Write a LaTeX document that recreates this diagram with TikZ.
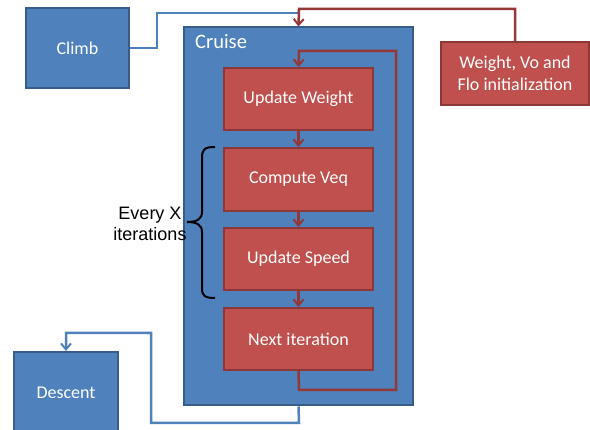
\documentclass[tikz,border=0pt]{standalone}
\usepackage{fontspec}
\setmainfont{Carlito}
\newfontfamily\arialfont{Liberation Sans}
\usetikzlibrary{arrows.meta}
\definecolor{boxblue}{HTML}{4F81BD}
\definecolor{edgeblue}{HTML}{385D8A}
\definecolor{boxred}{HTML}{C0504D}
\definecolor{edgered}{HTML}{8C3836}
\definecolor{linered}{HTML}{953735}
\tikzset{
  bluebox/.style={draw=edgeblue, fill=boxblue, line width=2pt, text=white, font=\fontsize{18}{22}\selectfont, inner sep=0pt},
  redbox/.style={draw=edgered, fill=boxred, line width=2pt, text=white, font=\fontsize{18}{22}\selectfont, inner sep=0pt, minimum width=149pt, align=center},
  redline/.style={draw=linered, line width=2.5pt},
  blueline/.style={draw=boxblue, line width=2.5pt},
  tip/.style={-{Straight Barb[length=6pt,width=10pt,line width=2pt]}},
}
\begin{document}
\begin{tikzpicture}[x=1pt,y=-1pt]
\useasboundingbox (0,0) rectangle (590,430);
\clip (0,0) rectangle (590,430);
% boxes
\node[bluebox, minimum width=103pt, minimum height=80pt] (climb) at (77.5,48) {Climb};
\node[bluebox, minimum width=229pt, minimum height=378pt] (cruise) at (298.5,216.5) {};
\node[anchor=base west, inner sep=0pt, text=white, font=\fontsize{20.5}{24}\selectfont] (cruiselbl) at (195,49) {Cruise};
\node[redbox, minimum height=62pt] (uw) at (298.5,99) {Update Weight};
\node[redbox, minimum height=63pt] (cv) at (298.5,179.5) {Compute Veq};
\node[redbox, minimum height=62pt] (us) at (298.5,259) {Update Speed};
\node[redbox, minimum height=62pt] (ni) at (298.5,339) {Next iteration};
\node[redbox, minimum width=148pt, minimum height=63pt] (init) at (515,73.5) {Weight, Vo and\\Flo initialization};
\node[bluebox, minimum width=104pt, minimum height=82pt] (descent) at (66,393) {Descent};
% coordinates
\coordinate (b1) at (157,48);
\coordinate (b2) at (157,13);
\coordinate (b3) at (299,13);
\coordinate (r1) at (299,9);
\coordinate (l1) at (299,390);
\coordinate (l2) at (396,390);
\coordinate (l3) at (396,51);
\coordinate (l4) at (299,51);
\coordinate (d1) at (299,423);
\coordinate (d2) at (151,423);
\coordinate (d3) at (151,333);
\coordinate (d4) at (66,333);
% blue connectors
\draw[blueline] (climb.east) -- (b1) -- (b2) -- (b3);
\draw[blueline, tip] (cruise.south) -- (d1) -- (d2) -- (d3) -- (d4) -- (descent.north);
% red connectors
\draw[redline, tip] (init.north) |- (r1) -- (cruise.north);
\draw[redline, tip] (ni.south) -- (l1) -- (l2) -- (l3) -- (l4) -- (uw.north);
\draw[redline, tip] (uw.south) -- (cv.north);
\draw[redline, tip] (cv.south) -- (us.north);
\draw[redline, tip] (us.south) -- (ni.north);
% brace
\draw[line width=2pt, black] (215,147) .. controls (205,147) and (202,149) .. (202,158) -- (202,212) .. controls (202,219) and (197,222) .. (187,222) .. controls (197,222) and (202,225) .. (202,232) -- (202,288) .. controls (202,296) and (205,298) .. (215,298);
\node[align=center, font=\arialfont\fontsize{18}{21}\selectfont, inner sep=0pt] (every) at (150,224) {Every X\\iterations};
\end{tikzpicture}
\end{document}
